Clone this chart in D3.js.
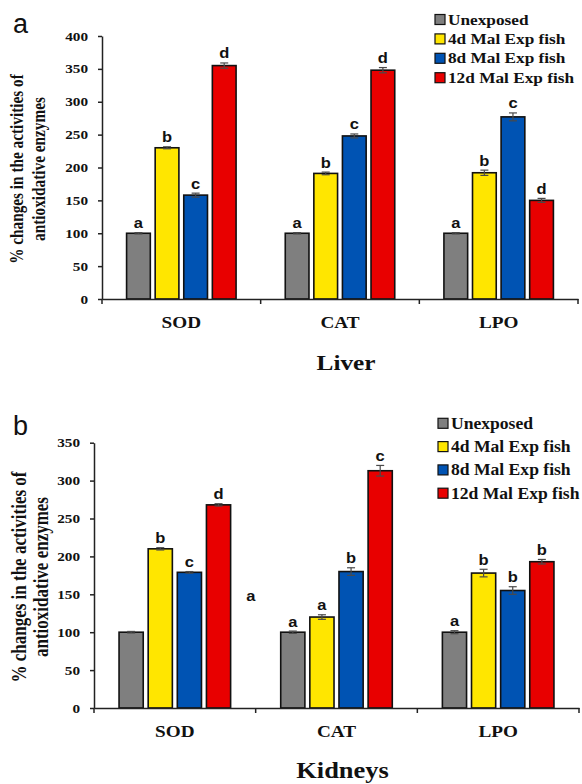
<!DOCTYPE html>
<html>
<head>
<meta charset="utf-8">
<script src="https://cdn.jsdelivr.net/npm/d3@7"></script>
<style>
  body { margin: 0; background: #fff; }
  svg text { font-weight: bold; fill: #111; }
</style>
</head>
<body>
<div id="chart"></div>
<script>
// categories and series
const categories = ['SOD', 'CAT', 'LPO'];
const seriesNames = ['Unexposed', '4d Mal Exp fish', '8d Mal Exp fish', '12d Mal Exp fish'];
const seriesColors = ['#7f7f7f', '#ffe600', '#0053b3', '#e80000'];

// panel a - liver (values per category: SOD, CAT, LPO)
const liverUnexposed = [100, 100, 100];
const liver4d = [230, 191, 192];
const liver8d = [158, 248, 277];
const liver12d = [355, 348, 150];
const liverErr = [[1, 1, 1], [1.5, 2, 4], [3, 3, 6], [4, 4, 3]];
const liverLetters = [['a', 'a', 'a'], ['b', 'b', 'b'], ['c', 'c', 'c'], ['d', 'd', 'd']];
const liverTicks = [0, 50, 100, 150, 200, 250, 300, 350, 400];

// panel b - kidneys
const kidneyUnexposed = [100, 100, 100];
const kidney4d = [210, 120, 178];
const kidney8d = [179, 180, 155];
const kidney12d = [268, 313, 193];
const kidneyErr = [[1, 1.5, 2], [1.5, 3, 5], [1, 5, 5], [1.5, 7, 3]];
const kidneyLetters = [['', 'a', 'a'], ['b', 'a', 'b'], ['c', 'b', 'b'], ['d', 'c', 'b']];
const kidneyStray = [{ text: 'a', cat: 'SOD', v: 141 }];   // the loose "a" between SOD and CAT
const kidneyTicks = [0, 50, 100, 150, 200, 250, 300, 350];

const SERIF = '"Liberation Serif", "Times New Roman", serif';
const SANS = '"Liberation Sans", Arial, sans-serif';

const W = 582, H = 784;
const svg = d3.select('#chart').append('svg').attr('width', W).attr('height', H);

// the figure is a bit wider than tall, so text is stretched sideways
function stretch(sel, sx) {
  sel.each(function() {
    const t = d3.select(this);
    const x = +t.attr('x') || 0, y = +t.attr('y') || 0;
    t.attr('x', 0).attr('y', 0).attr('transform', `translate(${x},${y}) scale(${sx},1)`);
  });
}

const panels = [
  { tag: 'a', title: 'Liver', series: [liverUnexposed, liver4d, liver8d, liver12d], err: liverErr,
    letters: liverLetters, stray: [], ticks: liverTicks, yMax: 400,
    left: 102, right: 578, top: 36, bottom: 299,
    tagY: 33, titleY: 370, titleFont: 22, yTitleFont: 15.3, yTitleX: [23, 45], yTitleY: 169,
    legX: 435, legY: 19.5, legStep: 19.4, legFont: 15, legSx: 1.15 },
  { tag: 'b', title: 'Kidneys', series: [kidneyUnexposed, kidney4d, kidney8d, kidney12d], err: kidneyErr,
    letters: kidneyLetters, stray: kidneyStray, ticks: kidneyTicks, yMax: 350,
    left: 94, right: 579, top: 442.7, bottom: 708,
    tagY: 435, titleY: 778, titleFont: 23, yTitleFont: 17, yTitleX: [26, 48], yTitleY: 577,
    legX: 438, legY: 423.3, legStep: 23.3, legFont: 16, legSx: 1.1 }
];

panels.forEach(p => {
  const g = svg.append('g');

  const x0 = d3.scaleBand().domain(categories).range([p.left, p.right]).padding(0);
  const x1 = d3.scaleBand().domain(seriesNames).range([0, x0.bandwidth()])
    .paddingInner(0.17).paddingOuter(0.86);
  const y = d3.scaleLinear().domain([0, p.yMax]).range([p.bottom, p.top]);

  const rows = [];
  categories.forEach((c, ci) => seriesNames.forEach((s, si) => {
    rows.push({ c, s, si, v: p.series[si][ci], e: p.err[si][ci], l: p.letters[si][ci] });
  }));
  const cx = d => x0(d.c) + x1(d.s) + x1.bandwidth() / 2;

  // bars
  g.selectAll('rect.bar').data(rows).join('rect')
    .attr('class', 'bar')
    .attr('x', d => x0(d.c) + x1(d.s))
    .attr('y', d => y(d.v))
    .attr('width', x1.bandwidth())
    .attr('height', d => y(0) - y(d.v))
    .attr('fill', d => seriesColors[d.si])
    .attr('stroke', '#111')
    .attr('stroke-width', 1.6);

  // error bars
  const eb = g.selectAll('g.err').data(rows).join('g').attr('class', 'err')
    .attr('stroke', '#4a4a4a').attr('stroke-width', 1.2);
  eb.append('line').attr('x1', cx).attr('x2', cx)
    .attr('y1', d => y(d.v - d.e)).attr('y2', d => y(d.v + d.e));
  eb.append('line').attr('x1', d => cx(d) - 4).attr('x2', d => cx(d) + 4)
    .attr('y1', d => y(d.v + d.e)).attr('y2', d => y(d.v + d.e));
  eb.append('line').attr('x1', d => cx(d) - 4).attr('x2', d => cx(d) + 4)
    .attr('y1', d => y(d.v - d.e)).attr('y2', d => y(d.v - d.e));

  // significance letters
  g.selectAll('text.sig').data(rows.filter(d => d.l)).join('text')
    .attr('class', 'sig')
    .attr('x', cx)
    .attr('y', d => y(d.v + d.e) - 4.5)
    .attr('text-anchor', 'middle')
    .style('font-family', SANS).style('font-size', '15px')
    .text(d => d.l)
    .call(stretch, 1.1);
  g.selectAll('text.stray').data(p.stray).join('text')
    .attr('class', 'stray')
    .attr('x', d => x0(d.cat) + x0.bandwidth() * 0.97)
    .attr('y', d => y(d.v))
    .attr('text-anchor', 'middle')
    .style('font-family', SANS).style('font-size', '15px')
    .text(d => d.text)
    .call(stretch, 1.1);

  // y axis
  const yAx = g.append('g').attr('transform', `translate(${p.left},0)`)
    .call(d3.axisLeft(y).tickValues(p.ticks).tickSize(4).tickSizeOuter(0).tickPadding(10));
  yAx.selectAll('path, line').attr('stroke', '#222').attr('stroke-width', 1.5);
  yAx.selectAll('text').style('font-family', SERIF).style('font-size', '12.5px')
    .attr('fill', '#111').call(stretch, 1.22);

  // x axis: labels at centers, ticks on category boundaries
  const xAx = g.append('g').attr('transform', `translate(0,${p.bottom})`)
    .call(d3.axisBottom(x0).tickSize(0).tickSizeOuter(0));
  xAx.select('.domain').attr('stroke', '#222').attr('stroke-width', 1.5);
  xAx.selectAll('text').style('font-family', SERIF).style('font-size', '16px')
    .attr('fill', '#111').attr('dy', null).attr('y', 29).call(stretch, 1.2);
  const bounds = categories.map(c => x0(c)).concat([x0.range()[1]]);
  xAx.selectAll('line.bound').data(bounds).join('line').attr('class', 'bound')
    .attr('x1', d => d).attr('x2', d => d).attr('y1', 0).attr('y2', 5)
    .attr('stroke', '#222').attr('stroke-width', 1.5);

  // axis titles
  g.append('text')
    .attr('x', (p.left + p.right) / 2 + 6).attr('y', p.titleY)
    .attr('text-anchor', 'middle')
    .style('font-family', SERIF).style('font-size', p.titleFont + 'px')
    .text(p.title).call(stretch, 1.15);

  const yt = g.append('text')
    .attr('transform', `translate(0,${p.yTitleY}) rotate(-90) scale(1,1.2)`)
    .attr('text-anchor', 'middle')
    .style('font-family', SERIF).style('font-size', p.yTitleFont + 'px');
  ['% changes in the activities of', 'antioxidative enzymes'].forEach((line, i) => {
    yt.append('tspan').attr('x', 0).attr('y', p.yTitleX[i] / 1.2).text(line);
  });

  // panel tag
  g.append('text')
    .attr('x', 13).attr('y', p.tagY)
    .style('font-family', SANS).style('font-size', '27px').style('font-weight', 'normal')
    .text(p.tag);

  // legend
  const leg = g.selectAll('g.leg').data(seriesNames).join('g').attr('class', 'leg')
    .attr('transform', (d, i) => `translate(${p.legX},${p.legY + i * p.legStep})`);
  leg.append('rect').attr('x', 0).attr('y', -5).attr('width', 10).attr('height', 10)
    .attr('fill', (d, i) => seriesColors[i]).attr('stroke', '#111').attr('stroke-width', 1.2);
  leg.append('text').attr('x', 13).attr('y', 0).attr('dy', '0.34em')
    .style('font-family', SERIF).style('font-size', p.legFont + 'px').text(d => d)
    .call(stretch, p.legSx);
});
</script>
</body>
</html>
